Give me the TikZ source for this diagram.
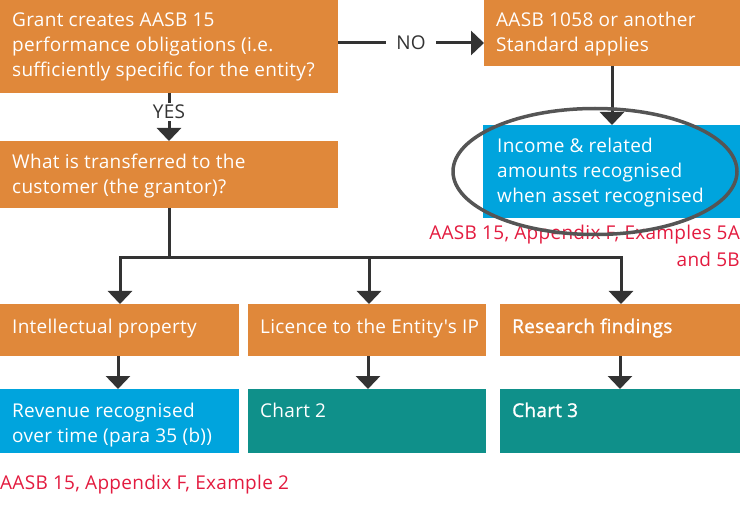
\documentclass[tikz,border=0pt]{standalone}
\usepackage{fontspec}
\setmainfont{Open Sans}[Ligatures=TeXOff, LetterSpace=1.5]
\newfontfamily\sbfont{Open Sans}[Ligatures=TeXOff, LetterSpace=1.5, FakeBold=1.2]
\usetikzlibrary{arrows.meta}
\definecolor{corange}{HTML}{E0883A}
\definecolor{cblue}{HTML}{00A4DD}
\definecolor{cteal}{HTML}{0F908A}
\definecolor{cred}{HTML}{E31B3F}
\definecolor{cdark}{HTML}{333333}
\definecolor{cring}{HTML}{555555}
\tikzset{
  boxbase/.style={anchor=north west, inner sep=0pt, outer sep=0pt},
  obox/.style={boxbase, fill=corange},
  bbox/.style={boxbase, fill=cblue},
  tbox/.style={boxbase, fill=cteal},
  wtxt/.style={anchor=base west, inner sep=0pt, text=white, font=\fontsize{19}{25}\selectfont},
  wbtxt/.style={anchor=base west, inner sep=0pt, text=white, font=\sbfont\fontsize{19}{25}\selectfont},
  rtxt/.style={inner sep=0pt, text=cred, font=\fontsize{19}{25}\selectfont},
  arr/.style={draw=cdark, line width=3pt, -{Triangle[width=24pt,length=13pt]}},
  conn/.style={draw=cdark, line width=3pt},
  lbl/.style={fill=white, text=cdark, inner xsep=10pt, inner ysep=2pt, font=\fontsize{19}{20}\selectfont},
}
\begin{document}
\begin{tikzpicture}[x=1pt,y=-1pt]
\useasboundingbox (0,0) rectangle (740,516);
% boxes
\node[obox, minimum width=338pt, minimum height=93pt] (q1) at (0,0) {};
\node[obox, minimum width=256pt, minimum height=66pt] (std) at (484,0) {};
\node[bbox, minimum width=257pt, minimum height=93pt] (inc) at (483,125) {};
\node[obox, minimum width=338pt, minimum height=67pt] (q2) at (0,141) {};
\node[obox, minimum width=239pt, minimum height=52pt] (ip) at (0,304) {};
\node[obox, minimum width=238pt, minimum height=52pt] (lic) at (248,304) {};
\node[obox, minimum width=240pt, minimum height=52pt] (res) at (500,304) {};
\node[bbox, minimum width=239pt, minimum height=64pt] (rev) at (0,389) {};
\node[tbox, minimum width=238pt, minimum height=64pt] (ch2) at (248,389) {};
\node[tbox, minimum width=240pt, minimum height=64pt] (ch3) at (500,389) {};
% texts
\node[wtxt] (t1a) at (12,27) {Grant creates AASB 15};
\node[wtxt] (t1b) at (12,52) {performance obligations (i.e.};
\node[wtxt] (t1c) at (12,77) {sufficiently specific for the entity?};
\node[wtxt] (t2a) at (496,27) {AASB 1058 or another};
\node[wtxt] (t2b) at (496,52) {Standard applies};
\node[wtxt] (t3a) at (497,153) {Income \& related};
\node[wtxt] (t3b) at (497,178) {amounts recognised};
\node[wtxt] (t3c) at (497,203) {when asset recognised};
\node[wtxt] (t4a) at (12,169) {What is transferred to the};
\node[wtxt] (t4b) at (12,194) {customer (the grantor)?};
\node[wtxt] (t5) at (12,333) {Intellectual property};
\node[wtxt] (t6) at (260,333) {Licence to the Entity's IP};
\node[wbtxt] (t7) at (512,333) {Research findings};
\node[wtxt] (t8a) at (12,417) {Revenue recognised};
\node[wtxt] (t8b) at (12,442) {over time (para 35 (b))};
\node[wtxt] (t9) at (260,417) {Chart 2};
\node[wbtxt] (t10) at (512,417) {Chart 3};
\node[rtxt, anchor=base east] (r1a) at (740,240) {AASB 15, Appendix F, Examples 5A};
\node[rtxt, anchor=base east] (r1b) at (740,266) {and 5B};
\node[rtxt, anchor=base west] (r2) at (0,489) {AASB 15, Appendix F, Example 2};
% connectors
\coordinate (noS) at ([yshift=-43pt]q1.north east);
\draw[arr] (noS) -- node[lbl] (no) {NO} (noS -| std.west);
\coordinate (yS) at ([xshift=169pt]q1.south west);
\draw[arr] (yS) -- node[lbl, pos=0.4, inner xsep=2pt] (yes) {YES} (yS |- q2.north);
\coordinate (sS) at ([xshift=128pt]std.south west);
\draw[arr] (sS) -- (sS |- inc.north);
\coordinate (bS) at ([xshift=169pt]q2.south west);
\coordinate (bJ) at ([yshift=-50pt]bS);
\coordinate (bL) at (120,258);
\coordinate (bM) at (369,258);
\coordinate (bR) at (621,258);
\draw[conn] (bS) -- (bJ);
\draw[conn, line cap=rect] (bL) -- (bR);
\draw[arr] (bL) -- (bL |- ip.north);
\draw[arr] (bM) -- (bM |- lic.north);
\draw[arr] (bR) -- (bR |- res.north);
\coordinate (a1) at (118,356);
\coordinate (a2) at (368,356);
\coordinate (a3) at (620,356);
\draw[arr] (a1) -- (a1 |- rev.north);
\draw[arr] (a2) -- (a2 |- ch2.north);
\draw[arr] (a3) -- (a3 |- ch3.north);
% ring
\draw[cring, line width=3.5pt] (595,171.5) ellipse [x radius=142pt, y radius=63pt];
\end{tikzpicture}
\end{document}
